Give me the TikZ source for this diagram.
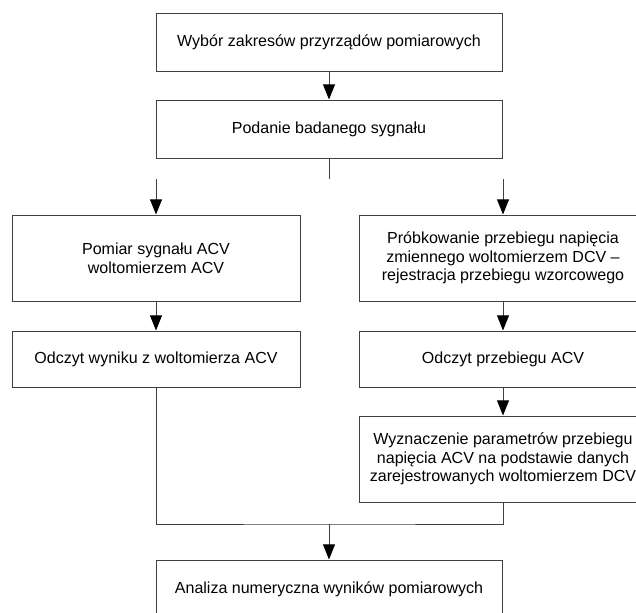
\documentclass[tikz,border=0pt]{standalone}
\usepackage{fontspec}
\setmainfont{Liberation Sans}
\usetikzlibrary{arrows.meta}
\tikzset{
  krok/.style={draw=black!75, line width=0.7pt, minimum height=1.45cm, align=center, inner sep=0pt, font=\fontsize{11.4}{13.3}\selectfont},
  szeroki/.style={krok, minimum width=8.65cm},
  kolumna/.style={krok, minimum width=7.2cm},
  wysoki/.style={minimum height=2.15cm},
  niski/.style={minimum height=1.4cm},
  linia/.style={draw=black!75, line width=0.7pt},
  strzalka/.style={linia, -{Triangle[length=0.38cm,width=0.3cm,black]}}
}

\begin{document}
\begin{tikzpicture}
		%%%%% START %%%%%
		\useasboundingbox (0, 0) rectangle (15.9, -15.325);
		\clip (0, 0) rectangle (15.9, -15.325);
		
		\node[szeroki] (wybor) at (8.225, -1.05) {Wybór zakresów przyrządów pomiarowych};
		\node[szeroki] (podanie) at (8.225, -3.225) {Podanie badanego sygnału};
		\draw[strzalka] (wybor) -- (podanie);
		
		\coordinate (rozg) at (8.225, -4.475);
		\coordinate (wejL) at (3.9, -4.475);
		\coordinate (wejP) at (12.575, -4.475);
		\draw[linia] (podanie) -- (rozg);
		
		% lewa galaz
		\node[kolumna, wysoki] (pomiar) at (3.9, -6.45) {Pomiar sygnału ACV\\woltomierzem ACV};
		\node[kolumna, niski] (odczL) at (3.9, -8.975) {Odczyt wyniku z woltomierza ACV};
		\draw[strzalka] (wejL) -- (pomiar);
		\draw[strzalka] (pomiar) -- (odczL);
		
		% prawa galaz
		\node[kolumna, wysoki] (probk) at (12.575, -6.45) {Próbkowanie przebiegu napięcia\\zmiennego woltomierzem DCV –\\rejestracja przebiegu wzorcowego};
		\node[kolumna, niski] (odczP) at (12.575, -8.975) {Odczyt przebiegu ACV};
		\node[kolumna, wysoki] (wyzn) at (12.575, -11.475) {Wyznaczenie parametrów przebiegu\\napięcia ACV na podstawie danych\\zarejestrowanych woltomierzem DCV};
		\draw[strzalka] (wejP) -- (probk);
		\draw[strzalka] (probk) -- (odczP);
		\draw[strzalka] (odczP) -- (wyzn);
		
		\coordinate (zbieg) at (8.225, -13.1);
		\draw[linia] (odczL) |- (zbieg) -| (wyzn);
		
		\node[szeroki] (analiza) at (8.225, -14.725) {Analiza numeryczna wyników pomiarowych};
		\draw[strzalka] (zbieg) -- (analiza);
		%%%%% END %%%%%
	\end{tikzpicture}
\end{document}
